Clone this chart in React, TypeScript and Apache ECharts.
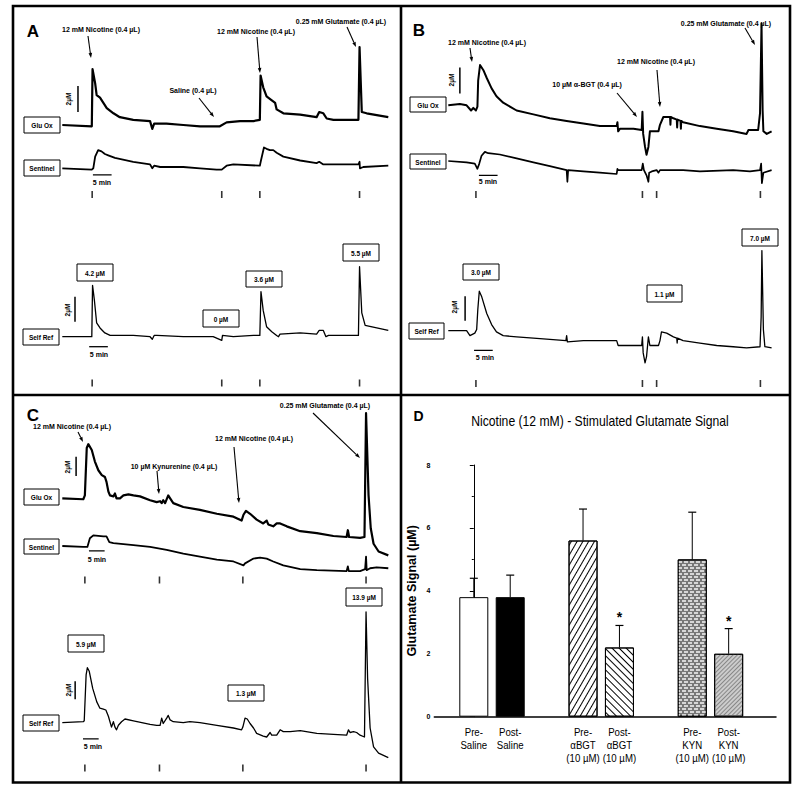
import React, { useEffect, useRef } from "react";
import * as echarts from "echarts";

// ---------------- Panel A traces: [time (min), signal (µM, relative to baseline)] ----------------
const aGluOx: number[][] = [
  [0, 0], [7.9, -0.1], [8.1, 4.3], [8.8, 3.2], [9.2, 2.3], [10.1, 2.1], [11.0, 1.7], [11.9, 1.3], [13.7, 0.9],
  [15.4, 0.6], [19.0, 0.4], [23.5, 0.3], [24.1, -0.3], [24.6, 0.1], [25.3, 0.1], [27.9, 0.1], [32.4, 0.0],
  [36.9, -0.1], [40.4, -0.1], [42.2, -0.1], [44.0, 0.2], [47.6, 0.3], [51.2, 0.3], [52.9, 0.4], [53.1, 3.8],
  [53.8, 2.9], [54.7, 2.2], [56.1, 1.9], [57.0, 1.7], [57.4, 1.2], [59.2, 0.9], [63.7, 0.8], [68.1, 0.6],
  [68.8, 1.0], [69.9, 0.9], [70.8, 0.5], [72.6, 0.4], [79.3, 0.4], [79.6, 6.0], [80.2, 1.0], [81.5, 0.9], [87.3, 0.6],
];
const aSentinel: number[][] = [
  [0, 0], [7.9, -0.1], [8.3, 0], [8.8, 0.9], [9.6, 1.4], [10.5, 1.3], [11.4, 1.1], [12.3, 1.0], [14.1, 0.8],
  [19.0, 0.5], [23.5, 0.3], [24.1, 0], [24.6, 0.2], [26.2, 0.1], [32.4, 0.1], [36.9, 0], [41.3, -0.1], [42.7, -0.1],
  [44.0, 0.2], [45.8, 0.3], [52.9, 0.2], [53.2, 0.6], [54.0, 1.6], [54.7, 1.5], [55.6, 1.4], [56.5, 1.4], [57.4, 1.2],
  [59.2, 0.9], [63.7, 0.6], [68.1, 0.4], [68.8, 0.5], [69.9, 0.3], [72.6, 0.3], [79.3, 0.3], [79.6, 0.5], [79.7, 0],
  [80.6, 0.1], [87.3, 0.2],
];
const aSelfRef: number[][] = [
  [0, 0], [7.9, 0], [8.1, 4.1], [8.6, 2.9], [9.2, 1.1], [10.1, 0.7], [11.4, 0.3], [12.8, 0.1], [19.0, 0.1],
  [23.5, 0], [24.1, -0.2], [24.6, 0.1], [25.3, 0.1], [32.4, 0], [40.4, 0], [42.7, -0.3], [42.9, 0.1], [45.8, 0],
  [51.2, 0.1], [52.9, 0.1], [53.2, 3.6], [53.8, 2.1], [54.7, 0.8], [56.1, 0.4], [57.4, 0.1], [57.9, 0], [58.3, 0.2],
  [63.7, 0.3], [68.1, 0.2], [68.8, 0.5], [69.9, 0.5], [70.6, 0], [71.3, 0.1], [79.3, 0.1], [79.6, 5.6], [80.2, 1.9],
  [81.1, 0.9], [84.2, 0.7], [87.3, 0.5],
];
const aInjections = [8.0, 42.7, 52.9, 79.6];

// ---------------- Panel B traces ----------------
const bGluOx: number[][] = [
  [0, -0.1], [3.1, 0], [4.9, -0.1], [6.1, -0.5], [6.7, -0.3], [7.4, -0.5], [7.8, -0.2], [8.0, 1.8], [8.5, 3.0],
  [9.4, 2.6], [10.3, 2.0], [11.6, 1.2], [12.9, 0.6], [14.7, 0.1], [18.3, -0.5], [22.8, -0.8], [27.2, -1.1],
  [31.7, -1.3], [36.2, -1.5], [40.6, -1.7], [45.1, -1.7], [45.3, -1.4], [45.5, -2.1], [46.0, -1.9], [49.6, -1.9],
  [51.8, -2.0], [52.0, -0.6], [52.2, -2.3], [52.7, -3.3], [53.1, -3.9], [53.6, -3.3], [54.0, -2.1], [54.9, -2.1],
  [56.3, -2.1], [56.7, -1.6], [57.6, -1.0], [58.5, -1.0], [59.4, -1.0], [59.5, -1.6], [59.6, -1.0], [60.3, -1.1],
  [61.2, -1.2], [61.3, -1.8], [61.4, -1.2], [62.2, -1.3], [62.3, -1.9], [62.4, -1.3], [62.9, -1.4], [67.4, -1.7],
  [71.9, -1.9], [76.3, -2.1], [79.9, -2.3], [80.4, -2.0], [83.0, -2.0], [83.5, -0.7], [83.9, 6.2], [84.2, -0.5],
  [84.4, -2.1], [85.3, -2.3], [86.6, -2.1],
];
const bSentinel: number[][] = [
  [0, 0], [4.9, -0.1], [7.1, -0.2], [7.8, -0.6], [8.3, -0.2], [8.9, 0.4], [9.8, 0.7], [10.7, 0.6], [13.8, 0.5],
  [18.3, 0.2], [22.8, -0.1], [27.2, -0.4], [31.7, -0.7], [31.9, -1.6], [32.1, -0.7], [36.2, -0.8], [40.6, -0.9],
  [45.1, -1.0], [45.3, -0.6], [45.5, -0.7], [51.8, -0.7], [52.1, -0.2], [52.4, -0.7], [53.1, -1.1], [53.6, -1.6],
  [53.8, -0.9], [54.5, -0.8], [55.8, -0.7], [56.3, -0.9], [56.7, -0.7], [62.9, -0.7], [67.4, -0.8], [76.3, -0.7],
  [80.8, -0.8], [83.5, -0.7], [83.8, -0.2], [84.0, -1.7], [84.4, -0.9], [86.6, -0.7],
];
const bSelfRef: number[][] = [
  [0, 0], [4.9, 0], [5.8, -0.4], [7.1, -0.2], [7.6, 0.1], [7.9, 1.7], [8.3, 3.2], [8.9, 2.8], [10.3, 1.4],
  [11.6, 0.5], [12.9, -0.1], [14.7, -0.4], [18.3, -0.5], [22.8, -0.6], [27.2, -0.7], [31.5, -0.8], [31.7, -0.4],
  [31.9, -0.9], [36.2, -0.8], [45.1, -0.8], [45.5, -1.2], [51.8, -1.2], [52.0, -0.5], [52.2, -1.8], [52.7, -2.6],
  [53.1, -2.1], [53.6, -0.5], [54.0, -1.2], [56.3, -1.2], [56.7, -0.8], [57.1, -0.1], [58.5, -0.2], [60.3, -0.5],
  [61.2, -0.6], [61.3, -1.0], [61.4, -0.6], [62.9, -0.8], [67.4, -1.0], [71.9, -1.2], [76.3, -1.3], [79.9, -1.4],
  [83.5, -1.3], [83.8, 1.1], [84.0, 6.5], [84.4, 0.1], [84.8, -1.3], [86.6, -1.4],
];
const bInjections = [7.4, 52.0, 55.8, 83.6];

// ---------------- Panel C traces ----------------
const cGluOx: number[][] = [
  [0, 0], [6.7, -0.1], [7.2, 0.3], [7.8, 5.2], [8.3, 5.6], [9.4, 5.0], [10.4, 3.8], [11.5, 2.9], [12.6, 2.4],
  [13.6, 2.2], [14.1, 1.7], [14.7, 0.7], [15.2, 0.3], [16.3, 0.2], [16.8, 0.5], [17.3, 0], [18.4, 0], [19.5, 0.3],
  [21.1, 0.4], [22.7, 0.3], [24.8, 0.2], [28.0, -0.2], [30.1, -0.4], [31.2, -0.3], [31.7, -0.5], [32.2, -0.2],
  [32.8, -0.5], [33.8, 0.3], [34.4, 0], [35.4, -0.5], [38.6, -0.9], [43.9, -1.2], [49.3, -1.6], [54.6, -1.9],
  [57.2, -2.3], [57.8, -1.7], [58.6, -1.3], [59.9, -1.6], [62.0, -2.2], [64.1, -2.6], [65.2, -2.3], [65.7, -2.7],
  [67.3, -2.9], [68.4, -2.6], [69.5, -2.6], [71.6, -2.9], [75.9, -3.4], [81.2, -3.6], [86.5, -3.9], [90.7, -4.0],
  [91.1, -3.3], [91.5, -4.0], [95.0, -4.1], [96.4, -4.0], [96.9, 8.8], [97.7, 0.3], [98.4, -3.1], [99.3, -4.7],
  [100.9, -5.5], [104.0, -5.9],
];
const cSentinel: number[][] = [
  [0, 0], [6.7, -0.1], [8.0, -0.1], [8.8, 0.8], [9.9, 1.1], [13.1, 1.0], [14.1, 1.0], [15.0, 0.4], [16.3, 0.3],
  [22.7, 0.1], [28.0, -0.1], [33.3, -0.4], [38.6, -0.8], [43.9, -1.1], [49.3, -1.4], [54.6, -1.6], [57.8, -2.0],
  [58.3, -1.8], [61.0, -1.3], [63.1, -1.2], [65.2, -1.3], [67.3, -1.6], [70.5, -2.0], [75.9, -2.4], [81.2, -2.5],
  [90.7, -2.6], [91.1, -2.1], [91.4, -2.6], [95.0, -2.6], [96.6, -2.4], [96.9, -1.1], [97.1, -2.5], [98.2, -2.3],
  [100.3, -2.2], [104.0, -2.3],
];
const cSelfRef: number[][] = [
  [0, -0.1], [6.7, 0], [7.0, 0.1], [7.6, 5.2], [8.0, 6.0], [8.6, 5.6], [9.7, 3.7], [11.0, 2.2], [12.0, 1.5],
  [13.1, 1.4], [13.9, 1.3], [14.7, 0.6], [15.7, -0.6], [16.3, 0], [16.8, -0.6], [17.3, -0.9], [17.9, -0.4],
  [18.9, 0], [20.0, 0.3], [22.7, 0.1], [28.0, -0.3], [30.1, -0.4], [31.2, -0.4], [31.7, 0.4], [32.2, -0.2],
  [33.3, 0.4], [33.8, 0.7], [34.4, 0.2], [35.4, 0], [38.6, -0.1], [40.7, 0], [43.9, -0.1], [49.3, -0.4],
  [54.6, -0.7], [57.2, -0.9], [57.6, -0.6], [58.3, 0.4], [59.0, 0.3], [59.9, -0.2], [61.0, -0.7], [62.0, -1.3],
  [64.1, -1.6], [65.2, -1.7], [66.3, -1.2], [66.8, -1.5], [68.4, -1.5], [69.5, -0.9], [70.5, -1.1], [72.7, -1.1],
  [75.9, -1.0], [81.2, -1.3], [86.5, -1.4], [90.7, -1.5], [91.3, -0.9], [91.8, -1.2], [92.9, -1.1], [93.9, -1.2],
  [95.0, -1.5], [96.4, -1.7], [96.9, 12.2], [97.4, 4.8], [98.2, -0.7], [99.3, -2.8], [100.9, -3.5], [104.0, -4.0],
];
const cInjections = [7.2, 31.0, 57.6, 96.9];

// ---------------- Panel D bar chart ----------------
const dCategories = [
  "Pre-\nSaline", "Post-\nSaline", "Pre-\nαBGT\n(10 µM)", "Post-\nαBGT\n(10 µM)", "Pre-\nKYN\n(10 µM)", "Post-\nKYN\n(10 µM)",
];
const dPositions = [0, 1, 3, 4, 6, 7];
const dMeans = [3.8, 3.8, 5.6, 2.2, 5.0, 2.0];
const dErrors = [0.6, 0.7, 1.0, 0.7, 1.5, 0.8];
const dSignificant = [0, 0, 0, 1, 0, 1];
const dYTicks = [0, 2, 4, 6, 8];

// ---------------- fonts / layout ----------------
const SANS = '"Liberation Sans", Arial, Helvetica, sans-serif';
const NARROW_SCALE = 0.84;

type TraceLayout = { left: number; width: number; span: number; base: number; ppu: number; min: number; max: number; lw: number };

const text = (t: string, x: number, y: number, size: number, opt: any = {}) => ({
  type: "text", x, y, rotation: opt.rot || 0, scaleX: opt.sx || 1, silent: true, z: 10,
  style: {
    text: t, x: 0, y: 0, align: opt.align || "center", verticalAlign: opt.valign || "middle",
    textAlign: opt.align || "center", textVerticalAlign: opt.valign || "middle",
    lineHeight: opt.lh, font: `${opt.weight || "bold"} ${size}px ${opt.family || SANS}`, fill: "#000",
  },
});

function buildOption() {
  const grid: any[] = [];
  const xAxis: any[] = [];
  const yAxis: any[] = [];
  const series: any[] = [];
  const graphic: any[] = [];

  const addGrid = (g: any, xmin: number, xmax: number, ymin: number, ymax: number) => {
    const i = grid.length;
    grid.push(g);
    xAxis.push({ type: "value", gridIndex: i, min: xmin, max: xmax, show: false });
    yAxis.push({ type: "value", gridIndex: i, min: ymin, max: ymax, show: false });
    return i;
  };

  const addTrace = (data: number[][], L: TraceLayout, vBar?: [number, number, number], hBar?: [number, number, number]) => {
    const i = addGrid(
      { left: L.left, width: L.width, top: L.base - L.max * L.ppu, height: (L.max - L.min) * L.ppu },
      0, L.span, L.min, L.max
    );
    series.push({
      type: "line", xAxisIndex: i, yAxisIndex: i, data, symbol: "none", silent: true,
      lineStyle: { color: "#000", width: L.lw, join: "round" },
    });
    if (vBar) {
      series.push({
        type: "line", xAxisIndex: i, yAxisIndex: i, symbol: "none", silent: true,
        data: [[vBar[0], vBar[1]], [vBar[0], vBar[2]]], lineStyle: { color: "#000", width: 1.5 },
      });
    }
    if (hBar) {
      series.push({
        type: "line", xAxisIndex: i, yAxisIndex: i, symbol: "none", silent: true,
        data: [[hBar[0], hBar[2]], [hBar[1], hBar[2]]], lineStyle: { color: "#000", width: 1.3 },
      });
    }
  };

  const addTicks = (times: number[], left: number, width: number, span: number, centerY: number) => {
    const i = addGrid({ left, width, top: centerY - 7, height: 14 }, 0, span, 0, 1);
    series.push({
      type: "scatter", xAxisIndex: i, yAxisIndex: i, silent: true,
      data: times.map((t) => [t, 0.5]), symbol: "rect", symbolSize: [1.6, 7],
      itemStyle: { color: "#000" },
    });
  };

  // Panel A
  const aL = { left: 62.3, width: 326, span: 87.3 };
  addTrace(aGluOx, { ...aL, base: 125, ppu: 13, min: -1, max: 7, lw: 2.2 }, [4.2, 1, 3]);
  addTrace(aSentinel, { ...aL, base: 168.3, ppu: 13, min: -1.5, max: 3, lw: 1.8 }, undefined, [8.2, 13.2, -0.5]);
  addTrace(aSelfRef, { ...aL, base: 336.7, ppu: 12.5, min: -1.5, max: 6, lw: 1.3 }, [3.4, 1.2, 3.2], [7.2, 12.2, -0.8]);
  addTicks(aInjections, aL.left, aL.width, aL.span, 194.5);
  addTicks(aInjections, aL.left, aL.width, aL.span, 383);

  // Panel B
  const bL = { left: 448.3, width: 323.3, span: 86.6 };
  addTrace(bGluOx, { ...bL, base: 104, ppu: 13, min: -4.5, max: 6.5, lw: 2 }, [3.1, 0.8, 2.8]);
  addTrace(bSentinel, { ...bL, base: 161, ppu: 13, min: -2.5, max: 2, lw: 1.7 }, undefined, [8.2, 13.2, -1.1]);
  addTrace(bSelfRef, { ...bL, base: 330.7, ppu: 12.33, min: -3, max: 7, lw: 1.3 }, [4.5, 0.8, 2.8], [6.9, 11.9, -1.6]);
  addTicks(bInjections, bL.left, bL.width, bL.span, 194.5);
  addTicks(bInjections, bL.left, bL.width, bL.span, 383.5);

  // Panel C
  const cL = { left: 62.3, width: 326, span: 104 };
  addTrace(cGluOx, { ...cL, base: 498.3, ppu: 9.67, min: -7, max: 9.5, lw: 2.2 }, [4.4, 2.3, 4.3]);
  addTrace(cSentinel, { ...cL, base: 546, ppu: 9.67, min: -4, max: 2.5, lw: 1.8 }, undefined, [8.5, 13.5, -0.5]);
  addTrace(cSelfRef, { ...cL, base: 721.7, ppu: 9, min: -5, max: 13.5, lw: 1.3 }, [4.1, 2.5, 4.5], [6.6, 11.6, -1.9]);
  addTicks(cInjections, cL.left, cL.width, cL.span, 580);
  addTicks(cInjections, cL.left, cL.width, cL.span, 768);

  // Panel D
  const di = grid.length;
  grid.push({ left: 434.3, top: 465, right: 24, bottom: 78.3 });
  xAxis.push({
    type: "value", gridIndex: di, min: -1.085, max: 8.3,
    axisLine: { show: true, onZero: false, lineStyle: { color: "#000", width: 1.5 } },
    axisTick: { show: false }, splitLine: { show: false }, axisLabel: { show: false },
  });
  yAxis.push({
    type: "value", gridIndex: di, min: 0, max: 8, interval: 2,
    name: "Glutamate Signal (µM)", nameLocation: "middle", nameGap: 16,
    nameTextStyle: { color: "#000", fontFamily: SANS, fontWeight: "bold", fontSize: 12.5 },
    axisLine: { show: true, lineStyle: { color: "#000", width: 1 } },
    axisTick: { show: true, length: 4, lineStyle: { color: "#000" } },
    minorTick: { show: true, splitNumber: 2, length: 2, lineStyle: { color: "#000" } },
    splitLine: { show: false },
    axisLabel: { color: "#000", fontFamily: SANS, fontWeight: "bold", fontSize: 7, margin: 4, customValues: dYTicks },
  });

  const barStyles: any[] = [
    { color: "#fff" },
    { color: "#000" },
    { color: "#fff", decal: { symbol: "rect", symbolSize: 1, color: "#000", backgroundColor: "#fff", dashArrayX: [1, 0], dashArrayY: [0.8, 3.4], rotation: -Math.PI / 3 } },
    { color: "#fff", decal: { symbol: "rect", symbolSize: 1, color: "#000", backgroundColor: "#fff", dashArrayX: [1, 0], dashArrayY: [0.8, 4], rotation: Math.PI / 4 } },
    { color: "#777", decal: { symbol: "rect", symbolSize: 1, color: "#d6d6d6", backgroundColor: "#333", dashArrayX: [[3.2, 1.1], [1.6, 1.1, 1.6, 0]], dashArrayY: [1.5, 1] } },
    { color: "#ccc", decal: { symbol: "rect", symbolSize: 1, color: "#888", backgroundColor: "#fff", dashArrayX: [1, 0], dashArrayY: [0.7, 1.9], rotation: -Math.PI / 4 } },
  ];
  series.push({
    type: "bar", xAxisIndex: di, yAxisIndex: di, barWidth: 29, silent: true,
    data: dPositions.map((p, k) => ({
      value: [p, dMeans[k]],
      itemStyle: { ...barStyles[k], borderColor: "#000", borderWidth: 1 },
    })),
  });
  series.push({
    type: "custom", xAxisIndex: di, yAxisIndex: di, silent: true, z: 5,
    data: dPositions.map((p, k) => [p, dMeans[k], dErrors[k], dSignificant[k]]),
    renderItem: (_params: any, api: any) => {
      const x = api.value(0), m = api.value(1), e = api.value(2), s = api.value(3);
      const b = api.coord([x, m]);
      const t = api.coord([x, m + e]);
      const children: any[] = [
        { type: "line", shape: { x1: b[0], y1: b[1], x2: t[0], y2: t[1] }, style: { stroke: "#000", lineWidth: 1 } },
        { type: "line", shape: { x1: t[0] - 4, y1: t[1], x2: t[0] + 4, y2: t[1] }, style: { stroke: "#000", lineWidth: 1.2 } },
      ];
      if (s) {
        children.push({
          type: "text", x: t[0], y: t[1] - 8,
          style: { text: "*", align: "center", verticalAlign: "middle", textAlign: "center", textVerticalAlign: "middle", font: `bold 14px ${SANS}`, fill: "#000" },
        });
      }
      return { type: "group", children };
    },
  });

  // ---------- annotations (graphic) ----------
  const box = (x: number, y: number, w: number, h: number, t: string) => [
    { type: "rect", silent: true, z: 10, shape: { x, y, width: w, height: h }, style: { fill: "#fff", stroke: "#000", lineWidth: 1 } },
    text(t, x + w / 2, y + h / 2 + 0.5, 6.5),
  ];
  const arrow = (x1: number, y1: number, x2: number, y2: number) => {
    const a = Math.atan2(y2 - y1, x2 - x1);
    const L = 5, W = 1.8;
    const bx = x2 - L * Math.cos(a), by = y2 - L * Math.sin(a);
    const px = -Math.sin(a), py = Math.cos(a);
    return [
      { type: "line", silent: true, z: 10, shape: { x1, y1, x2: bx, y2: by }, style: { stroke: "#000", lineWidth: 1.1 } },
      { type: "polygon", silent: true, z: 10, shape: { points: [[x2, y2], [bx + W * px, by + W * py], [bx - W * px, by - W * py]] }, style: { fill: "#000" } },
    ];
  };
  const label = (t: string, cx: number, cy: number, ax1: number, ay1: number, ax2: number, ay2: number) => [
    text(t, cx, cy, 7), ...arrow(ax1, ay1, ax2, ay2),
  ];
  const umBar = (x: number, y: number) => text("2µM", x, y, 6.5, { rot: Math.PI / 2 });
  const minBar = (x: number, y: number) => text("5 min", x, y, 7);

  graphic.push(
    // frame
    { type: "rect", silent: true, z: 20, shape: { x: 13, y: 6, width: 777, height: 776.5 }, style: { fill: "none", stroke: "#000", lineWidth: 2.6 } },
    { type: "line", silent: true, z: 20, shape: { x1: 401, y1: 6, x2: 401, y2: 782.5 }, style: { stroke: "#000", lineWidth: 2.6 } },
    { type: "line", silent: true, z: 20, shape: { x1: 13, y1: 395, x2: 790, y2: 395 }, style: { stroke: "#000", lineWidth: 2.6 } },
    // panel letters
    text("A", 33, 31, 17, { weight: 900 }),
    text("B", 419, 30.5, 17, { weight: 900 }),
    text("C", 33, 415.5, 17, { weight: 900 }),
    text("D", 418.5, 415.5, 14, { weight: 900 }),
    // Panel A
    ...label("12 mM Nicotine (0.4 µL)", 101, 29, 88, 36, 91, 58),
    ...label("12 mM Nicotine (0.4 µL)", 256, 31, 257, 37, 260, 73),
    ...label("0.25 mM Glutamate (0.4 µL)", 341, 21, 347, 27, 356, 47),
    ...label("Saline (0.4 µL)", 193, 90, 199, 98, 214, 117),
    ...box(24, 117, 36, 16, "Glu Ox"),
    ...box(24, 160, 36, 16, "Sentinel"),
    ...box(23, 329, 36, 16, "Self Ref"),
    ...box(77, 264, 36, 17, "4.2 µM"),
    ...box(203, 310, 36, 17, "0 µM"),
    ...box(246, 271, 36, 16, "3.6 µM"),
    ...box(343, 244, 36, 17, "5.5 µM"),
    umBar(68, 99), umBar(67, 310), minBar(102, 182), minBar(99, 354),
    // Panel B
    ...label("12 mM Nicotine (0.4 µL)", 487, 42, 470, 48, 472, 62),
    ...label("10 µM α-BGT (0.4 µL)", 587, 84, 617, 93, 637, 117),
    ...label("12 mM Nicotine (0.4 µL)", 656, 61, 657, 70, 660, 107),
    ...label("0.25 mM Glutamate (0.4 µL)", 726, 23, 745, 28, 755, 45),
    ...box(410, 97, 36, 15, "Glu Ox"),
    ...box(410, 154, 36, 15, "Sentinel"),
    ...box(409, 323, 35, 16, "Self Ref"),
    ...box(463, 264, 36, 16, "3.0 µM"),
    ...box(647, 285, 35, 17, "1.1 µM"),
    ...box(742, 229, 36, 17, "7.0 µM"),
    umBar(451, 80), umBar(454, 307), minBar(488, 181), minBar(485, 357),
    // Panel C
    ...label("12 mM Nicotine (0.4 µL)", 72, 426, 78, 432, 83, 442),
    ...label("10 µM Kynurenine (0.4 µL)", 174, 466, 157, 471, 159, 494),
    ...label("12 mM Nicotine (0.4 µL)", 254, 438, 234, 447, 239, 503),
    ...label("0.25 mM Glutamate (0.4 µL)", 325, 405, 313, 413, 360, 458),
    ...box(24, 489, 35, 16, "Glu Ox"),
    ...box(24, 539, 35, 15, "Sentinel"),
    ...box(23, 715, 36, 16, "Self Ref"),
    ...box(68, 635, 36, 17, "5.9 µM"),
    ...box(228, 685, 36, 16, "1.3 µM"),
    ...box(346, 588, 36, 18, "13.9 µM"),
    umBar(67, 467), umBar(68, 690), minBar(97, 559), minBar(93, 746),
    // Panel D title (narrow face emulated by horizontal scaling)
    text("Nicotine (12 mM) - Stimulated Glutamate Signal", 600, 421, 14.5, { weight: "normal", sx: 0.84 }),
  );

  return { option: { animation: false, backgroundColor: "#fff", grid, xAxis, yAxis, series, graphic }, di, graphic };
}

export default function App() {
  const ref = useRef<HTMLDivElement>(null);
  useEffect(() => {
    if (!ref.current) return;
    const chart = echarts.init(ref.current, undefined, { renderer: "svg" });
    const { option, di, graphic } = buildOption();
    chart.setOption(option as any);
    // category labels of panel D placed through the x axis scale
    const catLabels = dPositions.map((p, k) => {
      const px = chart.convertToPixel({ xAxisIndex: di, yAxisIndex: di }, [p, 0]) as number[];
      return text(dCategories[k], px[0], px[1] + 8.5, 11.5, { weight: "normal", valign: "top", lh: 13, sx: NARROW_SCALE });
    });
    chart.setOption({ graphic: [...graphic, ...catLabels] } as any);
    return () => chart.dispose();
  }, []);
  return (
    <div style={{ position: "absolute", left: 0, top: 0, width: 800, height: 795, background: "#fff" }}>
      <div ref={ref} style={{ width: 800, height: 795 }} />
    </div>
  );
}
